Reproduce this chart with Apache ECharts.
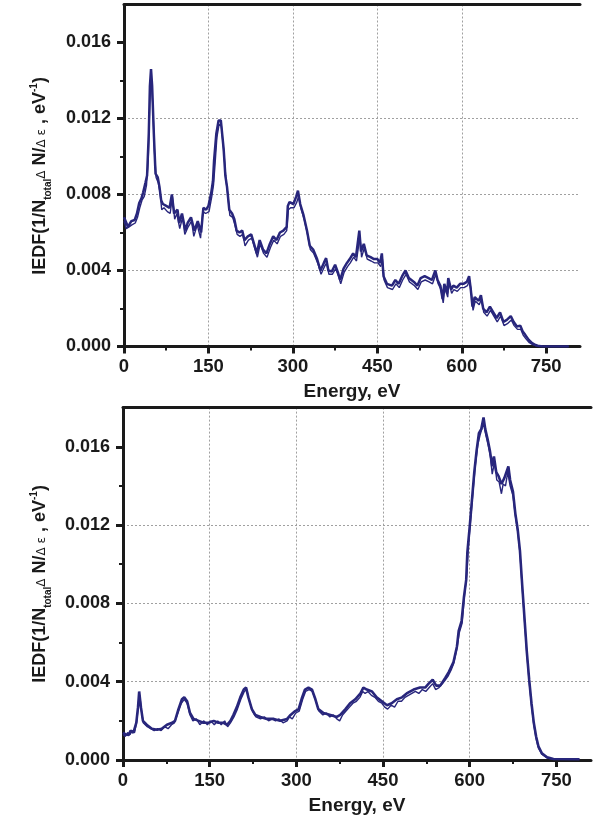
<!DOCTYPE html>
<html><head><meta charset="utf-8">
<script src="https://cdn.jsdelivr.net/npm/echarts@6/dist/echarts.min.js"></script>
<style>html,body{margin:0;padding:0;background:#fff}#c{width:599px;height:821px}</style>
</head><body><div id="c"></div>
<script>
// Tick values
const xTicks = [0, 150, 300, 450, 600, 750];
const yTicks = [0, 0.004, 0.008, 0.012, 0.016];

// Top panel: main (thick) curve, [energy eV, IEDF]
const topA = [
[0,0.0068],[2,0.00676],[7,0.0063],[13,0.0066],[19,0.00666],[23,0.0070],[27,0.00755],[31,0.0078],[34,0.0081],[38,0.0086],[41,0.0090],[44,0.0112],[46,0.0137],[48,0.0146],[50,0.0137],[53,0.0112],[56,0.0091],[60,0.0089],[63,0.0084],[66,0.0077],[69,0.0075],[75,0.0074],[81,0.0073],[85,0.0080],[89,0.0070],[95,0.0072],[98,0.0065],[103,0.0070],[109,0.0061],[113,0.0065],[119,0.0068],[125,0.0061],[131,0.0066],[137,0.0060],[141,0.0073],[146,0.0072],[150,0.0074],[155,0.0081],[158,0.0087],[160,0.0098],[164,0.0112],[168,0.0119],[172,0.0119],[177,0.0104],[180,0.0090],[183,0.0084],[187,0.0072],[192,0.0070],[196,0.0067],[200,0.0061],[205,0.0060],[210,0.0061],[214,0.0056],[220,0.0058],[226,0.0059],[231,0.0054],[236,0.0049],[241,0.0056],[247,0.0051],[253,0.0049],[259,0.0054],[265,0.0058],[271,0.0056],[277,0.0060],[283,0.0061],[289,0.0063],[291,0.0074],[294,0.0076],[301,0.0075],[306,0.0079],[309,0.0082],[313,0.0075],[319,0.0069],[325,0.0061],[330,0.0053],[336,0.0051],[343,0.0046],[349,0.0040],[355,0.0044],[359,0.00465],[363,0.0040],[369,0.00395],[375,0.0043],[380,0.0039],[384,0.0035],[390,0.0041],[396,0.0044],[401,0.0046],[407,0.0049],[412,0.0047],[418,0.0061],[421,0.0050],[426,0.0054],[431,0.0048],[438,0.0047],[444,0.0046],[450,0.0046],[455,0.0044],[458,0.0049],[461,0.0037],[467,0.0033],[476,0.0032],[482,0.0035],[488,0.0033],[494,0.0037],[500,0.0040],[506,0.0036],[515,0.0034],[521,0.0032],[527,0.0036],[534,0.0037],[541,0.0036],[547,0.0035],[553,0.0040],[557,0.0035],[562,0.0032],[566,0.0025],[569,0.0033],[574,0.0028],[576,0.0036],[581,0.0030],[585,0.0032],[591,0.0031],[597,0.0033],[603,0.0033],[609,0.0034],[613,0.0037],[616,0.0030],[619,0.0021],[623,0.0026],[630,0.0024],[634,0.0027],[638,0.0020],[644,0.0018],[650,0.0021],[656,0.0018],[662,0.0015],[668,0.0018],[674,0.0013],[680,0.0014],[687,0.0016],[692,0.0013],[698,0.00105],[704,0.0011],[708,0.0008],[713,0.0006],[719,0.00035],[725,0.00018],[731,0.00008],[737,0.00002],[745,0],[790,0]
];
// Top panel: second (thin, noisier) curve
const topB = [
[0,0.0066],[4,0.0062],[9,0.0063],[14,0.0064],[20,0.0065],[24,0.0068],[28,0.0073],[32,0.0077],[36,0.0079],[40,0.0085],[43,0.0098],[46,0.0130],[48,0.0141],[51,0.0128],[54,0.0103],[57,0.0089],[61,0.0086],[64,0.0081],[67,0.0072],[71,0.0073],[77,0.0071],[82,0.0070],[86,0.0079],[90,0.0067],[94,0.0070],[99,0.0062],[104,0.0068],[108,0.0059],[114,0.0063],[120,0.0066],[124,0.0058],[130,0.0064],[136,0.0057],[140,0.0071],[145,0.0070],[151,0.0071],[156,0.0079],[159,0.0085],[162,0.0097],[165,0.0110],[169,0.0117],[173,0.0116],[178,0.0100],[181,0.0088],[184,0.0081],[188,0.0069],[193,0.0068],[197,0.0064],[201,0.0059],[206,0.0058],[211,0.0059],[215,0.0053],[221,0.0056],[227,0.0057],[232,0.0052],[237,0.0047],[242,0.0054],[248,0.0049],[254,0.0047],[260,0.0052],[266,0.0056],[272,0.0054],[278,0.0058],[284,0.0059],[289,0.0061],[292,0.0072],[296,0.0073],[302,0.0073],[307,0.0076],[310,0.0079],[314,0.0073],[320,0.0067],[326,0.0059],[331,0.0051],[337,0.0049],[344,0.0044],[350,0.0038],[356,0.0042],[360,0.0044],[364,0.0038],[370,0.0038],[376,0.0041],[381,0.0037],[385,0.0033],[391,0.0039],[397,0.0042],[402,0.0044],[408,0.0047],[413,0.0045],[419,0.0058],[422,0.0047],[427,0.0052],[432,0.0046],[439,0.0045],[445,0.0044],[451,0.0044],[456,0.0042],[459,0.0046],[462,0.0035],[468,0.0031],[477,0.0030],[483,0.0033],[489,0.0031],[495,0.0035],[501,0.0038],[507,0.0034],[516,0.0032],[522,0.0030],[528,0.0034],[535,0.0035],[542,0.0034],[548,0.0033],[554,0.0038],[558,0.0033],[563,0.0030],[567,0.0023],[570,0.0031],[575,0.0026],[577,0.0034],[582,0.0028],[586,0.0030],[592,0.0029],[598,0.0031],[604,0.0031],[610,0.0032],[614,0.0035],[617,0.0028],[620,0.0019],[624,0.0024],[631,0.0022],[635,0.0025],[639,0.0018],[645,0.0016],[651,0.0019],[657,0.0016],[663,0.0013],[669,0.0016],[675,0.0011],[681,0.0012],[688,0.0014],[693,0.0011],[699,0.0009],[705,0.0009],[709,0.0006],[714,0.0004],[720,0.0002],[726,0.0001],[732,0.00003],[738,0],[790,0]
];
// Bottom panel: main (thick) curve
const botA = [
[0,0.0014],[5,0.0013],[10,0.00128],[13,0.0015],[18,0.0014],[23,0.0019],[26,0.0027],[28,0.0035],[31,0.0027],[34.5,0.0020],[41,0.0018],[50,0.0016],[59,0.00155],[67,0.0016],[76,0.0018],[85,0.0019],[90,0.0020],[96,0.0026],[102,0.0031],[106,0.0032],[111,0.0030],[116,0.0024],[122,0.0021],[131,0.0020],[139,0.0019],[148,0.0019],[157,0.0020],[165,0.0019],[174,0.0019],[180,0.0018],[186,0.0020],[191,0.0023],[197,0.0027],[203,0.0032],[209,0.0036],[213,0.0037],[217,0.0032],[223,0.0026],[229,0.0023],[238,0.0022],[249,0.0021],[261,0.0021],[272,0.0020],[284,0.0021],[290,0.0023],[298,0.0025],[304,0.0026],[310,0.0032],[315,0.0036],[321,0.0037],[327,0.0036],[333,0.0031],[338,0.0026],[347,0.0024],[359,0.0023],[370,0.0022],[376,0.0023],[385,0.0026],[393,0.0029],[402,0.0031],[411,0.0034],[416,0.0037],[422,0.0036],[431,0.0035],[439,0.0032],[448,0.0030],[457,0.0028],[465,0.0029],[474,0.0031],[483,0.0032],[491,0.0034],[503,0.0036],[514,0.0037],[523,0.0037],[529,0.0039],[536,0.0041],[542,0.0038],[549,0.0038],[558,0.0042],[564,0.0045],[572,0.0050],[578,0.0058],[581,0.0066],[586,0.0071],[590,0.0083],[594,0.0092],[596,0.0106],[600,0.0119],[604,0.0133],[608,0.0147],[612,0.0158],[616,0.0167],[620,0.0169],[624,0.0175],[627,0.0169],[631,0.0164],[635,0.0158],[639,0.0150],[642,0.0155],[646,0.0147],[650,0.0145],[655,0.0141],[660,0.0144],[663,0.0144],[667,0.0150],[670,0.0143],[675,0.0137],[679,0.0126],[683,0.0118],[687,0.0107],[691,0.0089],[695,0.0072],[699,0.0055],[703,0.0041],[707,0.0029],[711,0.0019],[715,0.0012],[719,0.0007],[725,0.00034],[734,0.00014],[745,0.00005],[790,0.00004]
];
// Bottom panel: second (thin, noisier) curve
const botB = [
[0,0.0013],[4,0.0012],[8,0.0014],[12,0.0013],[16,0.0015],[20,0.0014],[24,0.0020],[27,0.0030],[29,0.0033],[32,0.0025],[35,0.0019],[42,0.0017],[48,0.0016],[54,0.0015],[60,0.0016],[66,0.0015],[72,0.0017],[78,0.0016],[84,0.0018],[89,0.0019],[95,0.0024],[101,0.0029],[106,0.0031],[111,0.0029],[116,0.0023],[121,0.0020],[127,0.0021],[133,0.0018],[140,0.0020],[146,0.0018],[152,0.0020],[158,0.0018],[164,0.0020],[170,0.0018],[176,0.0020],[181,0.0017],[186,0.0019],[192,0.0022],[198,0.0026],[204,0.0031],[210,0.0035],[214,0.0036],[218,0.0031],[224,0.0025],[230,0.0022],[238,0.0021],[245,0.0022],[252,0.0020],[258,0.0021],[264,0.0020],[270,0.0021],[277,0.0019],[284,0.0020],[288,0.0022],[293,0.0021],[299,0.0024],[305,0.0025],[311,0.0031],[316,0.0035],[322,0.0036],[328,0.0035],[334,0.0030],[339,0.0025],[346,0.0023],[352,0.0024],[358,0.0022],[364,0.0023],[370,0.0021],[375,0.0020],[380,0.0023],[386,0.0025],[392,0.0027],[398,0.0029],[404,0.0030],[410,0.0032],[415,0.0035],[419,0.0034],[424,0.0035],[430,0.0033],[436,0.0032],[442,0.0030],[448,0.0029],[453,0.0027],[458,0.0026],[464,0.0028],[470,0.0027],[476,0.0030],[482,0.0030],[488,0.0032],[494,0.0033],[500,0.0034],[506,0.0035],[512,0.0034],[518,0.0036],[524,0.0035],[530,0.0037],[536,0.0039],[541,0.0036],[547,0.0037],[553,0.0039],[558,0.0041],[563,0.0043],[568,0.0046],[572,0.0049],[578,0.0057],[582,0.0065],[587,0.0070],[591,0.0084],[595,0.0095],[598,0.0110],[602,0.0124],[606,0.0138],[610,0.0151],[614,0.0161],[618,0.0166],[621,0.0165],[624,0.0172],[628,0.0166],[632,0.0161],[636,0.0155],[639,0.0146],[643,0.0152],[647,0.0143],[651,0.0142],[655,0.0136],[658,0.0141],[662,0.0140],[666,0.0147],[670,0.0140],[675,0.0135],[679,0.0125],[683,0.0117],[687,0.0106],[691,0.0088],[695,0.0071],[699,0.0054],[703,0.0040],[707,0.0028],[711,0.0018],[715,0.0011],[719,0.0006],[725,0.0003],[734,0.0001],[745,0.00004],[790,0.00004]
];

const FONT = "'Liberation Sans', Arial, Helvetica, sans-serif";
const INK = '#1a1a1a';
const LINE = '#28267c';
const GRID = '#a0a0a0';

function xBottom(gi) {
  return {
    gridIndex: gi, type: 'value', min: 0, max: 810, interval: 150, position: 'bottom',
    axisLine: {show: true, onZero: false, lineStyle: {color: INK, width: 3}},
    axisTick: {show: true, inside: false, length: 7, customValues: xTicks, lineStyle: {color: INK, width: 3}},
    minorTick: {show: true, splitNumber: 2, length: 4, lineStyle: {color: INK, width: 2}},
    axisLabel: {customValues: xTicks, margin: 11, color: INK, fontFamily: FONT, fontWeight: 'bold', fontSize: 18.5,
      formatter: v => (v % 150 === 0 ? String(v) : '')},
    splitLine: {show: true, showMinLine: false, showMaxLine: false, lineStyle: {color: GRID, width: 1, type: [2, 2]}},
    name: 'Energy, eV', nameLocation: 'middle', nameGap: 36,
    nameTextStyle: {color: INK, fontFamily: FONT, fontWeight: 'bold', fontSize: 19}
  };
}
function xTop(gi) {
  return {
    gridIndex: gi, type: 'value', min: 0, max: 810, position: 'top',
    axisLine: {show: true, onZero: false, lineStyle: {color: INK, width: 3}},
    axisTick: {show: false}, minorTick: {show: false}, axisLabel: {show: false}, splitLine: {show: false}
  };
}
function yLeft(gi) {
  return {
    gridIndex: gi, type: 'value', min: 0, max: 0.018, interval: 0.004,
    axisLine: {show: true, onZero: false, lineStyle: {color: INK, width: 3}},
    axisTick: {show: true, inside: false, length: 7, customValues: yTicks, lineStyle: {color: INK, width: 3}},
    minorTick: {show: true, splitNumber: 2, length: 4, lineStyle: {color: INK, width: 2}},
    axisLabel: {customValues: yTicks, margin: 13, color: INK, fontFamily: FONT, fontWeight: 'bold', fontSize: 18,
      formatter: v => (Math.abs(v * 250 - Math.round(v * 250)) < 1e-6 ? v.toFixed(3) : '')},
    splitLine: {show: true, showMinLine: false, showMaxLine: false, lineStyle: {color: GRID, width: 1, type: [2, 2]}}
  };
}
function lineSeries(data, xi, yi, w) {
  return {type: 'line', xAxisIndex: xi, yAxisIndex: yi, data: data, showSymbol: false, symbol: 'none',
    silent: true, lineStyle: {color: LINE, width: w}, z: 3};
}

const richStyles = {
  m: {fontSize: 18, fontWeight: 'bold', fontFamily: FONT, fill: INK},
  sub: {fontSize: 10, fontWeight: 'bold', fontFamily: FONT, fill: INK, padding: [17, 0, 0, 0]},
  sym: {fontSize: 12, fontWeight: 'normal', fontFamily: "'DejaVu Sans', sans-serif", fill: INK, padding: [3, 0, 0, 0]},
  sup: {fontSize: 10, fontWeight: 'bold', fontFamily: FONT, fill: INK, padding: [0, 0, 11, 0]}
};
const yLabelText = '{m|IEDF(1/N}{sub|total}{sym|Δ}{m| N/}{sym|Δ ε}{m| , eV}{sup|-1}{m|)}';

function yName(cx, cy) {
  return {type: 'text', x: cx, y: cy, rotation: Math.PI / 2, silent: true,
    style: {text: yLabelText, rich: richStyles, align: 'center', verticalAlign: 'middle', fill: INK,
      fontFamily: FONT, fontSize: 18, fontWeight: 'bold'}};
}

const chart = echarts.init(document.getElementById('c'), null, {renderer: 'canvas'});
chart.setOption({
  animation: false,
  backgroundColor: '#fff',
  grid: [
    {left: 124, top: 4.5, width: 456, height: 342},
    {left: 123, top: 407.6, width: 468, height: 352.4}
  ],
  xAxis: [xBottom(0), xTop(0), xBottom(1), xTop(1)],
  yAxis: [yLeft(0), yLeft(1)],
  series: [
    lineSeries(topB, 0, 0, 1.4),
    lineSeries(topA, 0, 0, 2.5),
    lineSeries(botB, 2, 1, 1.4),
    lineSeries(botA, 2, 1, 2.6)
  ],
  graphic: [yName(40, 176), yName(40, 584)]
});
</script>
</body></html>
